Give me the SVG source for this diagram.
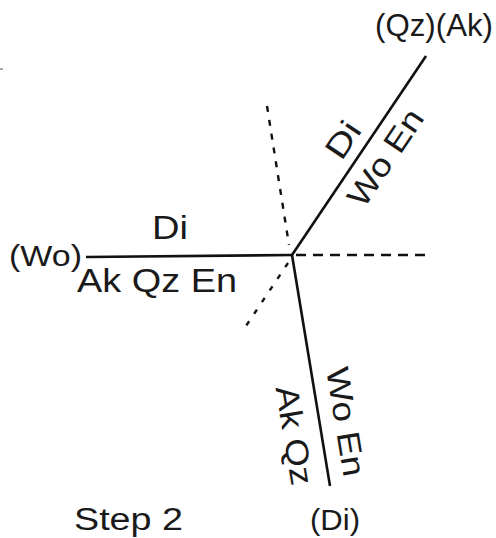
<svg xmlns="http://www.w3.org/2000/svg" width="496" height="538" viewBox="0 0 496 538">
<style>
.ln{stroke:#111;stroke-width:2.6;fill:none;stroke-linecap:butt}
.ds{stroke:#111;stroke-width:2.4;fill:none}
text{font-family:"Liberation Sans",Arial,sans-serif;fill:#1a1a1a}
</style>
<rect width="496" height="538" fill="#fff"/>
<line x1="0" y1="69" x2="3" y2="69" stroke="#888" stroke-width="1.5"/>
<g id="connectors">
<line class="ln" x1="86" y1="257" x2="292" y2="255"/>
<line class="ln" x1="292" y1="255" x2="426" y2="56"/>
<line class="ln" x1="292" y1="255" x2="330" y2="486"/>
<line class="ds" x1="296" y1="255" x2="432" y2="255" stroke-dasharray="10 7"/>
<line class="ds" x1="267" y1="106" x2="289" y2="245" stroke-dasharray="6 8"/>
<line class="ds" x1="288" y1="263" x2="242" y2="332" stroke-dasharray="5 9"/>
</g>
<g id="label-top-right">
<text x="375" y="36" font-size="31" textLength="118" lengthAdjust="spacingAndGlyphs">(Qz)(Ak)</text>
</g>
<g id="label-left">
<text x="9" y="266" font-size="29" textLength="73" lengthAdjust="spacingAndGlyphs">(Wo)</text>
<text x="152" y="239" font-size="33" textLength="36" lengthAdjust="spacingAndGlyphs">Di</text>
<text x="77" y="292" font-size="33" textLength="160" lengthAdjust="spacingAndGlyphs">Ak Qz En</text>
</g>
<g id="label-upper-line">
<text transform="translate(361.3,152.2) rotate(-56)" x="0" y="-11" font-size="32" text-anchor="middle" textLength="38" lengthAdjust="spacingAndGlyphs">Di</text>
<text transform="translate(366.3,144.7) rotate(-56)" x="0" y="34" font-size="32" text-anchor="middle" textLength="110" lengthAdjust="spacingAndGlyphs">Wo En</text>
</g>
<g id="label-lower-line">
<text transform="translate(320,426) rotate(80.66)" x="0" y="-15" font-size="32" text-anchor="middle" textLength="110" lengthAdjust="spacingAndGlyphs">Wo En</text>
<text transform="translate(321,431) rotate(80.66)" x="0" y="38" font-size="32" text-anchor="middle" textLength="100" lengthAdjust="spacingAndGlyphs">Ak Qz</text>
</g>
<g id="label-bottom">
<text x="74" y="530" font-size="31" textLength="109" lengthAdjust="spacingAndGlyphs">Step 2</text>
<text x="310" y="530" font-size="29" textLength="50" lengthAdjust="spacingAndGlyphs">(Di)</text>
</g>
</svg>
